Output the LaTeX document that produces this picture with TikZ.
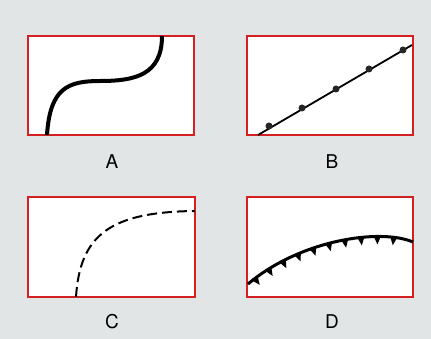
\documentclass[tikz,border=0pt]{standalone}
\usepackage{fontspec}
\setmainfont{TeX Gyre Heros}
\usetikzlibrary{decorations.markings}
\definecolor{bg}{RGB}{226,229,229}
\definecolor{boxred}{RGB}{212,32,32}
\tikzset{
  panel/.style={draw=boxred, line width=2pt, fill=white},
  lbl/.style={font=\fontsize{19}{21}\selectfont, inner sep=0pt},
  dot/.style={circle, fill=black!85, inner sep=0pt, minimum size=7pt},
}
\begin{document}
\begin{tikzpicture}[x=1pt,y=-1pt]
\useasboundingbox (0,0) rectangle (431,339);
\fill[bg] (0,0) rectangle (431,339);
% panels
\draw[panel] (28,36) rectangle (194,135);
\draw[panel] (247,36) rectangle (413,135);
\draw[panel] (28,197) rectangle (195,297);
\draw[panel] (247,197) rectangle (413,297);
% labels
\node[lbl] (la) at (112,162) {A};
\node[lbl] (lb) at (332,162) {B};
\node[lbl] (lc) at (112,322) {C};
\node[lbl] (ld) at (332,322) {D};
% A
\draw[line width=4pt] (47,135) .. controls (50,88) and (68,81) .. (100,81)
  .. controls (135,81) and (162,75) .. (162,36);
% B
\draw[line width=1.8pt] (258,135) -- (412,45);
\foreach \p [count=\i] in {(269,126),(302,108),(336,89),(369,69),(403,50)}
  \node[dot] (b\i) at \p {};
% C
\draw[line width=2pt, dash pattern=on 10pt off 5pt] (76,297) .. controls (80,235) and (110,212) .. (195,211);
% D
\draw[line width=3pt,
  postaction={decorate, decoration={markings,
    mark=between positions 0.05 and 0.98 step 0.093 with {\fill (-3.5,0) -- (3.5,0) -- (0,8) -- cycle;}}}]
  (248,284) .. controls (300,240) and (380,228) .. (413,242);
\end{tikzpicture}
\end{document}
